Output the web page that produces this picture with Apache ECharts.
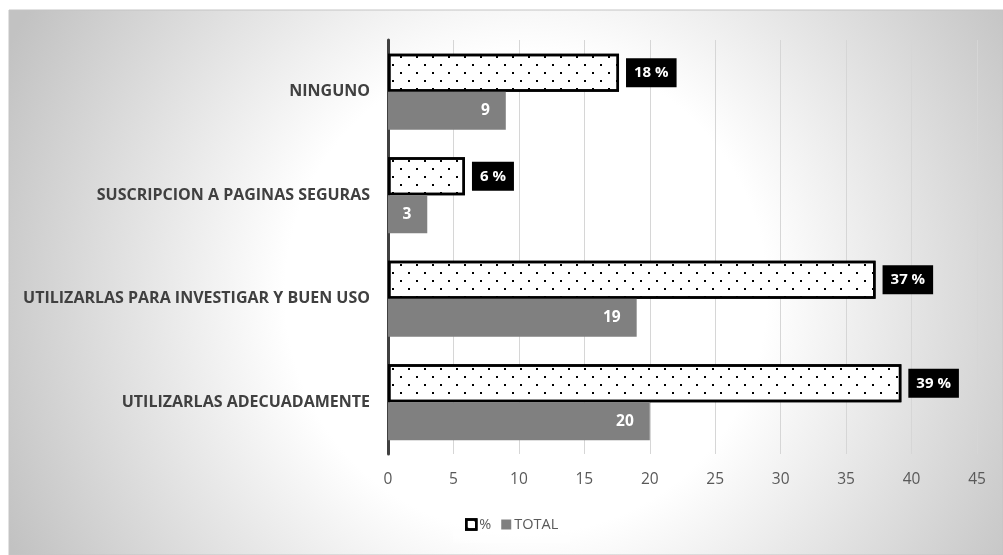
<!DOCTYPE html>
<html>
<head>
<meta charset="utf-8">
<script src="https://cdn.jsdelivr.net/npm/echarts@6/dist/echarts.min.js"></script>
<style>
html,body{margin:0;padding:0;background:#fff;}
#chart{width:1003px;height:555px;}
</style>
</head>
<body>
<div id="chart"></div>
<script>
// Categories bottom-to-top (ECharts category y axis starts at the bottom)
const categories = [
  'UTILIZARLAS ADECUADAMENTE',
  'UTILIZARLAS PARA INVESTIGAR Y BUEN USO',
  'SUSCRIPCION A PAGINAS SEGURAS',
  'NINGUNO'
];
const percentValues = [39.22, 37.25, 5.88, 17.65];
const totalValues = [20, 19, 3, 9];
const xTicks = [0, 5, 10, 15, 20, 25, 30, 35, 40, 45];
const seriesNames = ['%', 'TOTAL'];

const FONT = '"Open Sans", Lato, sans-serif';
const chart = echarts.init(document.getElementById('chart'), null, {renderer: 'canvas'});

const option = {
  backgroundColor: '#ffffff',
  animation: false,
  textStyle: {fontFamily: FONT},
  graphic: [{
    type: 'rect',
    z: -10,
    silent: true,
    shape: {x: 9, y: 10, width: 994, height: 545},
    style: {
      fill: {
        type: 'radial', x: 0.52, y: 0.52, r: 1.05,
        colorStops: [
          {offset: 0, color: '#ffffff'},
          {offset: 0.42, color: '#ffffff'},
          {offset: 1, color: '#c2c2c2'}
        ]
      },
      stroke: '#c4c4c4',
      lineWidth: 1
    }
  }],
  grid: {left: 388, right: 26, top: 40, bottom: 101, outerBoundsMode: 'none', containLabel: false},
  legend: {
    data: [
      {name: seriesNames[0], icon: 'rect', itemStyle: {borderWidth: 2.5, borderColor: '#000'}},
      {name: seriesNames[1], icon: 'rect'}
    ],
    left: 453,
    top: 506,
    padding: [11, 12],
    backgroundColor: 'rgba(255,255,255,0.4)',
    itemWidth: 10,
    itemHeight: 10,
    itemGap: 10,
    textStyle: {color: '#595959', fontSize: 14.5, fontFamily: FONT, padding: [0, 0, 0, -2]}
  },
  xAxis: {
    type: 'value',
    min: xTicks[0],
    max: xTicks[xTicks.length - 1],
    interval: xTicks[1] - xTicks[0],
    axisLine: {show: false},
    axisTick: {show: false},
    splitLine: {show: true, lineStyle: {color: '#d6d6d6', width: 1}},
    axisLabel: {color: '#595959', fontSize: 15.5, margin: 18, fontFamily: FONT}
  },
  yAxis: {
    type: 'category',
    data: categories,
    axisLine: {show: true, lineStyle: {color: '#404040', width: 3}},
    axisTick: {show: false},
    splitLine: {show: false},
    axisLabel: {color: '#404040', fontSize: 16, fontWeight: 'bold', margin: 18, fontFamily: FONT}
  },
  series: [
    {
      name: seriesNames[0],
      type: 'bar',
      data: percentValues,
      barWidth: 38,
      barGap: '0%',
      itemStyle: {
        color: '#ffffff',
        borderColor: '#000000',
        borderWidth: 2.5,
        decal: {
          symbol: 'rect',
          symbolSize: 1,
          color: '#000000',
          dashArrayX: [[2, 14], [0, 8, 2, 6]],
          dashArrayY: [2, 6],
          rotation: 0
        }
      },
      label: {
        show: true,
        position: 'right',
        distance: 7,
        formatter: p => Math.round(p.value) + ' %',
        backgroundColor: '#000000',
        color: '#ffffff',
        fontWeight: 'bold',
        fontSize: 15,
        fontFamily: FONT,
        padding: [7, 8]
      }
    },
    {
      name: seriesNames[1],
      type: 'bar',
      data: totalValues,
      barWidth: 38,
      barGap: '0%',
      itemStyle: {color: '#808080'},
      label: {
        show: true,
        position: 'insideRight',
        distance: 16,
        color: '#ffffff',
        fontWeight: 'bold',
        fontSize: 15.5,
        fontFamily: FONT
      }
    }
  ]
};
chart.setOption(option);
</script>
</body>
</html>
